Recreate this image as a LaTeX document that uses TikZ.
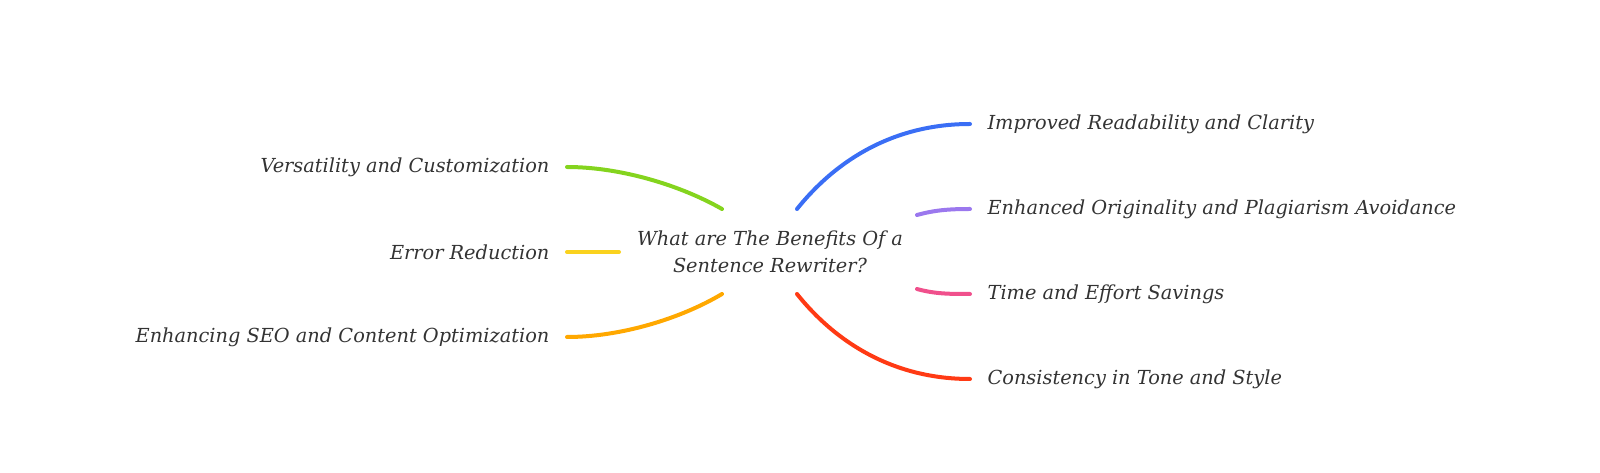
\documentclass[tikz,border=0pt]{standalone}
\usepackage{fontspec}
\setmainfont{DejaVu Serif}
\usetikzlibrary{positioning}

\definecolor{inkgray}{HTML}{333333}
\definecolor{brgreen}{HTML}{84D41E}
\definecolor{bryellow}{HTML}{FAD21E}
\definecolor{brorange}{HTML}{FFA800}
\definecolor{brblue}{HTML}{3A6EF5}
\definecolor{brpurple}{HTML}{9B78EE}
\definecolor{brpink}{HTML}{F0508C}
\definecolor{brred}{HTML}{FF3A14}

\begin{document}
\begin{tikzpicture}[
    x=0.75pt, y=-0.75pt,
    topic/.style={font=\fontsize{14.5}{20}\selectfont\itshape, text=inkgray, align=center},
    leaf/.style={font=\fontsize{14.5}{20}\selectfont\itshape, text=inkgray, inner xsep=13pt, inner ysep=2pt},
    branch/.style={line width=3pt, line cap=round}
  ]
  \useasboundingbox (0,0) rectangle (1600,473);

  % Thema in der Mitte
  \node[topic] (topic) at (770,252) {What are The Benefits Of a\\Sentence Rewriter?};

  % Ansatzpunkte der Aeste
  \coordinate (tnw) at (722,209);
  \coordinate (tw)  at (619,252);
  \coordinate (tsw) at (722,294);
  \coordinate (tne) at (797,209);
  \coordinate (te1) at (917,215);
  \coordinate (te2) at (917,289);
  \coordinate (tse) at (797,294);

  % Links
  \node[leaf, anchor=east] (versat) at (567,167) {Versatility and Customization};
  \node[leaf, anchor=east] (errred) at (567,252) {Error Reduction};
  \node[leaf, anchor=east] (seoopt) at (567,337) {Enhancing SEO and Content Optimization};

  % Rechts
  \node[leaf, anchor=west] (readab) at (970,124) {Improved Readability and Clarity};
  \node[leaf, anchor=west] (origin) at (970,209) {Enhanced Originality and Plagiarism Avoidance};
  \node[leaf, anchor=west] (saving) at (970,294) {Time and Effort Savings};
  \node[leaf, anchor=west] (consis) at (970,379) {Consistency in Tone and Style};

  % Aeste
  \draw[branch, brgreen]  (tnw) .. controls (680,185) and (620,167) .. (versat.east);
  \draw[branch, bryellow] (tw) -- (errred.east);
  \draw[branch, brorange] (tsw) .. controls (680,319) and (620,337) .. (seoopt.east);
  \draw[branch, brblue]   (tne) .. controls (837,159) and (895,124) .. (readab.west);
  \draw[branch, brpurple] (te1) .. controls (935,210) and (950,209) .. (origin.west);
  \draw[branch, brpink]   (te2) .. controls (935,294) and (950,294) .. (saving.west);
  \draw[branch, brred]    (tse) .. controls (837,344) and (895,379) .. (consis.west);

\end{tikzpicture}
\end{document}
